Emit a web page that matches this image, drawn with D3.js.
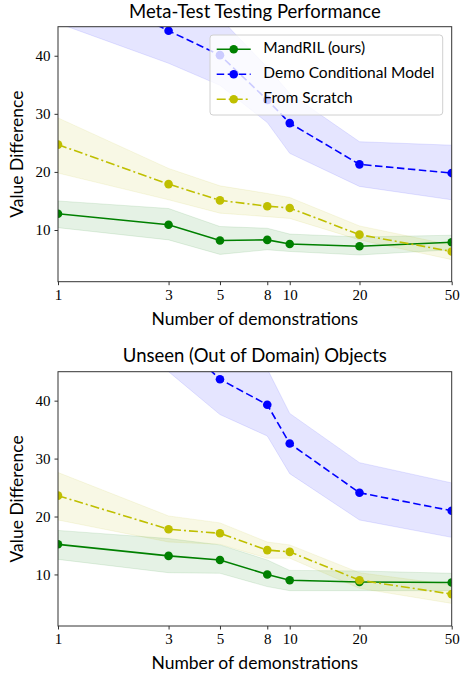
<!DOCTYPE html>
<html>
<head>
<meta charset="utf-8">
<script src="https://cdn.jsdelivr.net/npm/d3@7"></script>
<style>
  body { margin: 0; background: #fff; }
  svg text { font-family: Lato, "Open Sans", sans-serif; fill: #000; }
  .tick-label { font-family: "Liberation Serif", "DejaVu Serif", serif; }
</style>
</head>
<body>
<div id="chart"></div>
<script>
// x values and tick labels
const demos = [1, 3, 5, 8, 10, 20, 50];
const yTicks = [10, 20, 30, 40];
const seriesNames = ["MandRIL (ours)", "Demo Conditional Model", "From Scratch"];

// Meta-test panel
const mandrilMeta = [12.8, 10.9, 8.2, 8.3, 7.6, 7.2, 7.9];
const mandrilMetaLo = [10.4, 8.3, 5.8, 6.6, 6.3, 5.7, 6.6];
const mandrilMetaHi = [15.0, 13.7, 10.6, 10.3, 9.3, 8.8, 9.1];
const demoMeta = [53.6, 44.3, 40.1, 32.4, 28.4, 21.3, 19.8];
const demoMetaLo = [45.6, 38.7, 34.9, 28.5, 23.2, 17.5, 15.2];
const demoMetaHi = [61.0, 50.0, 46.5, 38.0, 33.5, 25.2, 24.6];
const scratchMeta = [24.7, 17.9, 15.1, 14.1, 13.8, 9.2, 6.3];
const scratchMetaLo = [19.8, 15.2, 12.9, 12.3, 12.0, 8.3, 4.9];
const scratchMetaHi = [29.3, 20.6, 17.6, 16.3, 15.6, 10.7, 7.4];

// Out of domain panel
const mandrilOod = [15.2, 13.2, 12.5, 10.0, 9.0, 8.7, 8.6];
const mandrilOodLo = [12.6, 10.3, 10.2, 7.9, 7.2, 7.2, 7.2];
const mandrilOodHi = [17.6, 16.2, 15.1, 12.5, 10.7, 10.6, 10.2];
const demoOod = [60.0, 52.0, 43.7, 39.3, 32.6, 24.1, 21.0];
const demoOodLo = [52.0, 45.0, 37.6, 33.9, 27.4, 19.4, 16.4];
const demoOodHi = [68.0, 59.0, 50.0, 45.5, 37.8, 29.3, 25.8];
const scratchOod = [23.6, 17.8, 17.1, 14.2, 13.9, 9.0, 6.6];
const scratchOodLo = [19.4, 15.6, 15.2, 12.8, 12.8, 7.6, 5.0];
const scratchOodHi = [27.6, 20.1, 18.9, 15.6, 15.1, 10.3, 8.2];

const width = 461, height = 673;
const colors = ["#008000", "#0000ff", "#bfbf00"];
const dashes = [null, "7.5,3.5", "9,3,2,3"];

const svg = d3.select("#chart").append("svg")
  .attr("width", width)
  .attr("height", height);

function drawPanel(cfg) {
  const { top, bottom, title, titleY, series, legend, id } = cfg;
  const left = 58, right = 451.7;

  const x = d3.scaleLog().domain([1, 50]).range([left, right]);
  const y = d3.scaleLinear().domain([1.1, 45]).range([bottom, top]);

  const g = svg.append("g");

  g.append("clipPath").attr("id", id)
    .append("rect")
    .attr("x", left).attr("y", top)
    .attr("width", right - left).attr("height", bottom - top);

  const plot = g.append("g").attr("clip-path", `url(#${id})`);

  const area = d3.area()
    .x((d, i) => x(demos[i]))
    .y0(d => y(d[0]))
    .y1(d => y(d[1]));
  const line = d3.line()
    .x((d, i) => x(demos[i]))
    .y(d => y(d));

  series.forEach((s, k) => {
    plot.append("path")
      .datum(s.lo.map((v, i) => [v, s.hi[i]]))
      .attr("d", area)
      .attr("fill", colors[k])
      .attr("fill-opacity", 0.1)
      .attr("stroke", colors[k])
      .attr("stroke-opacity", 0.1)
      .attr("stroke-width", 1);
  });

  series.forEach((s, k) => {
    plot.append("path")
      .datum(s.mean)
      .attr("d", line)
      .attr("fill", "none")
      .attr("stroke", colors[k])
      .attr("stroke-width", 1.6)
      .attr("stroke-dasharray", dashes[k]);
    plot.selectAll(null)
      .data(s.mean)
      .join("circle")
      .attr("cx", (d, i) => x(demos[i]))
      .attr("cy", d => y(d))
      .attr("r", 4.3)
      .attr("fill", colors[k]);
  });

  // frame
  g.append("rect")
    .attr("x", left).attr("y", top)
    .attr("width", right - left).attr("height", bottom - top)
    .attr("fill", "none")
    .attr("stroke", "#333")
    .attr("stroke-width", 1);

  const xAxis = d3.axisBottom(x)
    .tickValues(demos)
    .tickFormat(d3.format("d"))
    .tickSizeOuter(0)
    .tickSizeInner(3.5)
    .tickPadding(4);
  const gx = g.append("g")
    .attr("transform", `translate(0,${bottom})`)
    .call(xAxis);
  gx.select(".domain").remove();
  gx.selectAll(".tick line").attr("stroke", "#333");
  gx.selectAll(".tick text")
    .attr("class", "tick-label")
    .style("font-size", "15px");

  const yAxis = d3.axisLeft(y)
    .tickValues(yTicks)
    .tickSizeOuter(0)
    .tickSizeInner(3.5)
    .tickPadding(4);
  const gy = g.append("g")
    .attr("transform", `translate(${left},0)`)
    .call(yAxis);
  gy.select(".domain").remove();
  gy.selectAll(".tick line").attr("stroke", "#333");
  gy.selectAll(".tick text")
    .attr("class", "tick-label")
    .style("font-size", "15px");

  g.append("text")
    .attr("x", (left + right) / 2)
    .attr("y", titleY)
    .attr("text-anchor", "middle")
    .attr("dominant-baseline", "middle")
    .style("font-size", "18.5px")
    .text(title);

  g.append("text")
    .attr("x", (left + right) / 2)
    .attr("y", bottom + 39)
    .attr("text-anchor", "middle")
    .attr("dominant-baseline", "middle")
    .style("font-size", "17.5px")
    .text("Number of demonstrations");

  g.append("text")
    .attr("transform", `translate(19,${(top + bottom) / 2}) rotate(-90)`)
    .attr("text-anchor", "middle")
    .attr("dominant-baseline", "middle")
    .style("font-size", "17.5px")
    .text("Value Difference");

  if (legend) {
    const lg = g.append("g").attr("transform", "translate(210,35)");
    lg.append("rect")
      .attr("width", 232.7).attr("height", 80)
      .attr("rx", 3)
      .attr("fill", "#fff")
      .attr("fill-opacity", 0.8)
      .attr("stroke", "#d0d0d0")
      .attr("stroke-width", 1);
    seriesNames.forEach((name, k) => {
      const yy = 14.3 + k * 25;
      lg.append("line")
        .attr("x1", 6.7).attr("x2", 40.7)
        .attr("y1", yy).attr("y2", yy)
        .attr("stroke", colors[k])
        .attr("stroke-width", 1.6)
        .attr("stroke-dasharray", dashes[k]);
      lg.append("circle")
        .attr("cx", 23.7).attr("cy", yy).attr("r", 4.3)
        .attr("fill", colors[k]);
      lg.append("text")
        .attr("x", 53.3).attr("y", yy)
        .attr("dominant-baseline", "middle")
        .style("font-size", "15.5px")
        .text(name);
    });
  }
}

drawPanel({
  id: "clip-top",
  top: 26.7, bottom: 281.7, titleY: 13.5,
  title: "Meta-Test Testing Performance",
  legend: true,
  series: [
    { mean: mandrilMeta, lo: mandrilMetaLo, hi: mandrilMetaHi },
    { mean: demoMeta, lo: demoMetaLo, hi: demoMetaHi },
    { mean: scratchMeta, lo: scratchMetaLo, hi: scratchMetaHi }
  ]
});

drawPanel({
  id: "clip-bottom",
  top: 371.7, bottom: 626, titleY: 357.5,
  title: "Unseen (Out of Domain) Objects",
  legend: false,
  series: [
    { mean: mandrilOod, lo: mandrilOodLo, hi: mandrilOodHi },
    { mean: demoOod, lo: demoOodLo, hi: demoOodHi },
    { mean: scratchOod, lo: scratchOodLo, hi: scratchOodHi }
  ]
});
</script>
</body>
</html>
